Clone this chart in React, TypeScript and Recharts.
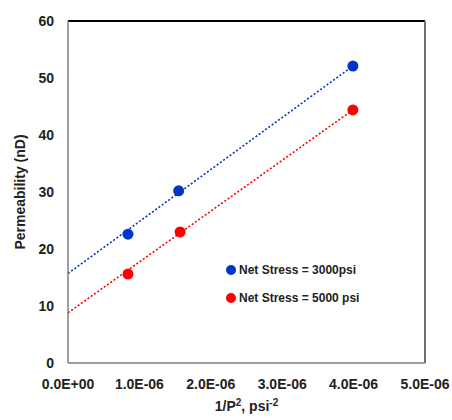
import React from "react";
import {
  ComposedChart, Scatter, Line, XAxis, YAxis, Legend, ReferenceLine,
} from "recharts";

const stress3000X = [0.84e-6, 1.55e-6, 3.99e-6];
const stress3000Y = [22.6, 30.2, 52.1];
const stress5000X = [0.84e-6, 1.57e-6, 3.99e-6];
const stress5000Y = [15.6, 23.0, 44.4];

// dotted trend lines, read at x = 0 and at the last point
const trendX = [0, 3.99e-6];
const trend3000Y = [15.7, 52.1];
const trend5000Y = [8.8, 44.4];

const xTicks = [0, 1e-6, 2e-6, 3e-6, 4e-6, 5e-6];
const yTicks = [0, 10, 20, 30, 40, 50, 60];

const BLUE = "#0035c8";
const RED = "#ff0000";
const FONT = "'Liberation Sans', Arial, sans-serif";

const toPoints = (xs: number[], ys: number[]) => xs.map((x, i) => ({ x, y: ys[i] }));

const pts3000 = toPoints(stress3000X, stress3000Y);
const pts5000 = toPoints(stress5000X, stress5000Y);
const line3000 = toPoints(trendX, trend3000Y);
const line5000 = toPoints(trendX, trend5000Y);

const xMax = xTicks[xTicks.length - 1];
const yMax = yTicks[yTicks.length - 1];

function sci(v: number) {
  if (v === 0) return "0.0E+00";
  const exp = Math.floor(Math.log10(Math.abs(v)) + 1e-9);
  const mant = v / Math.pow(10, exp);
  const sign = exp < 0 ? "-" : "+";
  return `${mant.toFixed(1)}E${sign}${String(Math.abs(exp)).padStart(2, "0")}`;
}

function LegendBox({ payload }: any) {
  const items = (payload ?? []).filter((p: any) => p.type !== "none");
  return (
    <div style={{ fontFamily: FONT, fontWeight: "bold", fontSize: 12, color: "#222" }}>
      {items.map((p: any) => (
        <div key={p.value} style={{ display: "flex", alignItems: "center", height: 28 }}>
          <span style={{ width: 10, height: 10, borderRadius: 5, background: p.color, marginRight: 3 }} />
          <span>{p.value}</span>
        </div>
      ))}
    </div>
  );
}

function XLabel({ viewBox }: any) {
  const cx = viewBox.x + viewBox.width / 2;
  return (
    <text x={cx} y={411} textAnchor="middle" fontFamily={FONT} fontWeight="bold" fontSize={14} fill="#222">
      1/P<tspan dy={-5} fontSize={10}>2</tspan><tspan dy={5}>, psi</tspan><tspan dy={-5} fontSize={10}>-2</tspan>
    </text>
  );
}

export default function App() {
  const tickStyle = { fontFamily: FONT, fontWeight: "bold", fontSize: 14, fill: "#222" };
  return (
    <div style={{ position: "absolute", left: 0, top: 0, background: "#fff" }}>
      <ComposedChart width={452} height={420} margin={{ top: 21, right: 27, bottom: 0, left: 0 }}>
        <XAxis
          type="number" dataKey="x" domain={[0, xMax]} ticks={xTicks}
          tickFormatter={sci} tick={tickStyle} tickLine={false} height={57}
          axisLine={{ stroke: "#7f7f7f", strokeWidth: 1.5 }} dy={8} interval={0}
          label={<XLabel />}
        />
        <YAxis
          type="number" domain={[0, yMax]} ticks={yTicks} tick={tickStyle}
          tickLine={false} width={68} axisLine={{ stroke: "#7f7f7f", strokeWidth: 1.5 }} dx={-6}
          label={{ value: "Permeability (nD)", angle: -90, position: "insideLeft", offset: 20,
            style: { textAnchor: "middle", fontFamily: FONT, fontWeight: "bold", fontSize: 14, fill: "#222" } }}
        />
        <ReferenceLine y={yMax} stroke="#000" strokeWidth={2} />
        <ReferenceLine x={xMax} stroke="#6f6f6f" strokeWidth={2} />
        <Line data={line3000} dataKey="y" stroke={BLUE} strokeWidth={1.6}
          strokeDasharray="2 2" dot={false} legendType="none" isAnimationActive={false} />
        <Line data={line5000} dataKey="y" stroke={RED} strokeWidth={1.6}
          strokeDasharray="2 2" dot={false} legendType="none" isAnimationActive={false} />
        <Scatter name="Net Stress = 3000psi" data={pts3000} dataKey="y" fill={BLUE}
          shape={(p: any) => <circle cx={p.cx} cy={p.cy} r={5.5} fill={BLUE} />} isAnimationActive={false} />
        <Scatter name="Net Stress = 5000 psi" data={pts5000} dataKey="y" fill={RED}
          shape={(p: any) => <circle cx={p.cx} cy={p.cy} r={5.5} fill={RED} />} isAnimationActive={false} />
        <Legend content={<LegendBox />} layout="vertical" verticalAlign="middle" align="center"
          wrapperStyle={{ left: 226, top: 256, width: 180 }} />
      </ComposedChart>
    </div>
  );
}
